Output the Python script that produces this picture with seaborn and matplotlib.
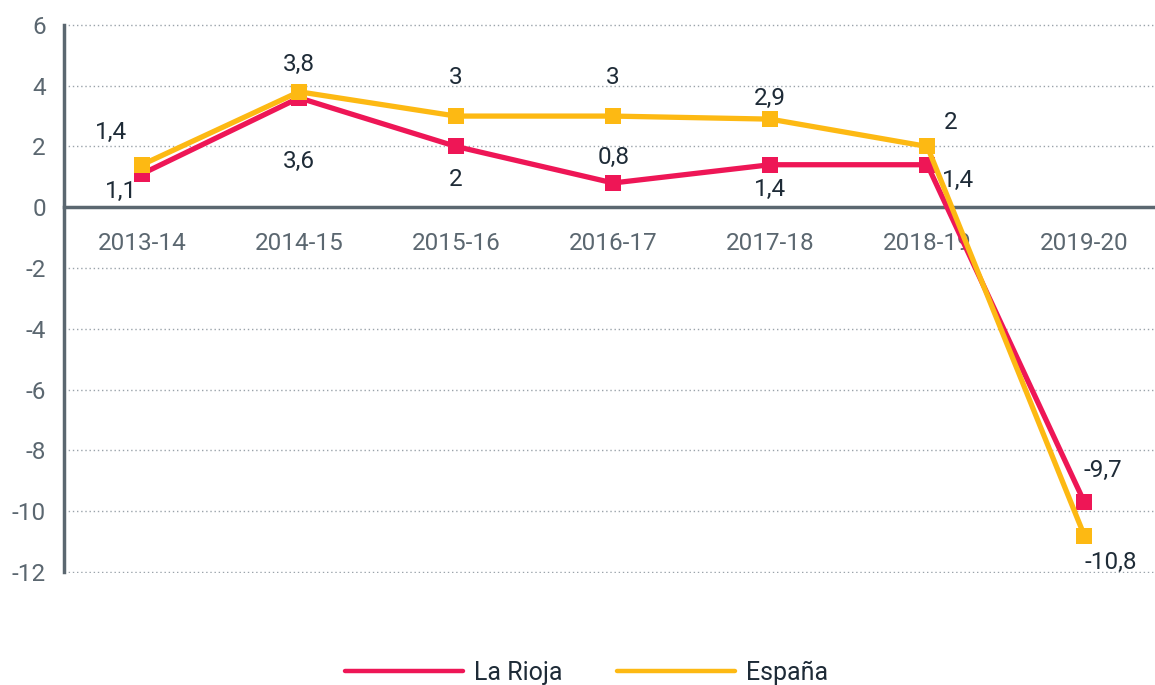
import pandas as pd
import numpy as np
from matplotlib import pyplot as plt
from matplotlib.lines import Line2D
import seaborn as sns

periods = ["2013-14", "2014-15", "2015-16", "2016-17", "2017-18", "2018-19", "2019-20"]
la_rioja = [1.1, 3.6, 2.0, 0.8, 1.4, 1.4, -9.7]
espana = [1.4, 3.8, 3.0, 3.0, 2.9, 2.0, -10.8]
series_names = ["La Rioja", "España"]
y_ticks = [-12, -10, -8, -6, -4, -2, 0, 2, 4, 6]

# label offsets in points (dx, dy) for each value label
rioja_off = [(-15, -13), (0, -46), (0, -24), (0, 18), (0, -18), (22, -11), (13, 23)]
espana_off = [(-22, 23), (0, 20), (0, 28), (0, 28), (0, 15), (17, 17), (19, -19)]

colors = {"La Rioja": "#EE1656", "España": "#FDB913"}
axis_grey = "#5B6770"
text_dark = "#1E2B37"

df = pd.DataFrame({
    "period": periods * 2,
    "value": la_rioja + espana,
    "serie": [series_names[0]] * len(periods) + [series_names[1]] * len(periods),
})

sns.set_style("white")
plt.rcParams["font.family"] = ["Roboto", "DejaVu Sans"]

fig = plt.figure(figsize=(11.55, 6.85), dpi=100)
ax = fig.add_axes([0.0554, 0.1635, 0.9446, 0.8015])

sns.lineplot(data=df, x="period", y="value", hue="serie", hue_order=series_names,
             palette=colors, marker="s", markersize=12, markeredgewidth=0,
             linewidth=3.8, legend=False, ax=ax, zorder=3)

def fmt(v):
    return ("%g" % v).replace(".", ",")

for vals, offs in [(la_rioja, rioja_off), (espana, espana_off)]:
    for i, (v, o) in enumerate(zip(vals, offs)):
        ax.annotate(fmt(v), (i, v), xytext=o, textcoords="offset points",
                    ha="center", va="center", fontsize=17.5, color=text_dark, zorder=5)

ax.set_xlim(-0.497, 6.45)
ax.set_ylim(-12.03, 6.03)
ax.set_yticks(y_ticks)
ax.set_yticklabels([str(t) for t in y_ticks])
ax.yaxis.grid(True, linestyle=(0, (1, 2)), color="#9AA3AA", linewidth=1)
ax.set_axisbelow(True)

for s in ["top", "right"]:
    ax.spines[s].set_visible(False)
ax.spines["bottom"].set_position(("data", 0))
ax.spines["bottom"].set_color(axis_grey)
ax.spines["bottom"].set_linewidth(2.5)
ax.spines["left"].set_color(axis_grey)
ax.spines["left"].set_linewidth(2.5)
ax.spines["left"].set_bounds(-12, 6)

ax.tick_params(axis="x", length=9, width=2, color=axis_grey, pad=9,
               labelsize=17.5, labelcolor=axis_grey, direction="out")
ax.tick_params(axis="y", length=0, pad=13, labelsize=17.5, labelcolor=axis_grey)
ax.set_xlabel("")
ax.set_ylabel("")

handles = [Line2D([0], [0], color=colors[n], linewidth=3.2) for n in series_names]
fig.legend(handles, series_names, loc="center", bbox_to_anchor=(0.508, 0.018),
           ncol=2, frameon=False, fontsize=18, handlelength=4.7, columnspacing=2.2,
           handletextpad=0.45, labelcolor=text_dark)

fig.savefig("out.png", dpi=100)
